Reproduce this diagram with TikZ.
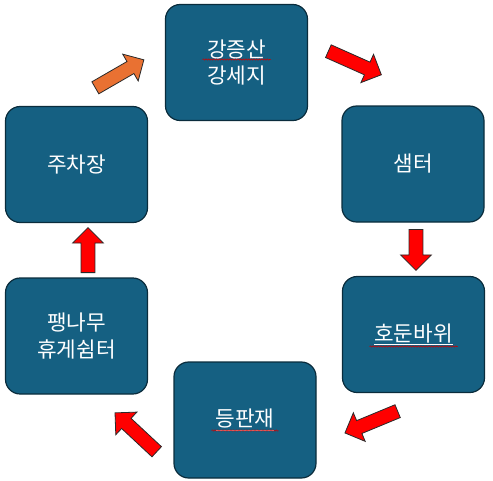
\documentclass[tikz,border=0pt]{standalone}
\usepackage{fontspec}
\newfontfamily\krfont{Noto Sans CJK KR}
\usetikzlibrary{shapes.arrows,decorations.pathmorphing}
\definecolor{boxblue}{HTML}{156082}
\definecolor{boxline}{HTML}{0A2C3C}
\definecolor{arrowred}{HTML}{FF0000}
\definecolor{arroworange}{HTML}{E97132}
\definecolor{arrowline}{HTML}{2A2A2A}
\begin{document}
\begin{tikzpicture}[x=0.75pt,y=-0.75pt,
  place/.style={draw=boxline, line width=0.9pt, fill=boxblue, rounded corners=11pt,
    minimum width=106.5pt, minimum height=87pt, inner sep=0pt,
    text=white, align=center, font=\krfont\fontsize{16}{20}\selectfont},
  blockarrow/.style={single arrow, draw=arrowline, line width=0.6pt,
    inner xsep=0pt, inner ysep=4.9pt,
    minimum width=22.5pt, single arrow head extend=6.4pt, anchor=tail},
  squiggle/.style={red!80!black, line width=0.4pt,
    decorate, decoration={snake, amplitude=0.5pt, segment length=2pt}}]
  \useasboundingbox (0,0) rectangle (493,480);
  % Stations of the loop
  \node[place] (gangjeungsan) at (236.5,62.5) {강증산\\강세지};
  \node[place] (saemteo) at (413,164) {샘터};
  \node[place] (hodunbawi) at (413.5,334.5) {\underline{호둔바위}};
  \node[place] (deungpanjae) at (245,420) {\underline{등판재}};
  \node[place] (paengnamu) at (76.5,336) {팽나무\\휴게쉼터};
  \node[place] (juchajang) at (76.5,164.5) {주차장};
  % Spelling marks
  \draw[squiggle] ([shift={(-34,-3)}]gangjeungsan.center) -- ++(68,0);
  \draw[squiggle] ([shift={(-44,12)}]hodunbawi.center) -- ++(88,0);
  \draw[squiggle] ([shift={(-33.5,10.5)}]deungpanjae.center) -- ++(67,0);
  % Block arrows round the loop
  \node[blockarrow, fill=arroworange, rotate=30, minimum height=42pt] (go1) at (95,88) {};
  \node[blockarrow, fill=arrowred, rotate=-24, minimum height=43.5pt] (go2) at (328,51) {};
  \node[blockarrow, fill=arrowred, rotate=-90, minimum height=30.75pt] (go3) at (416,229) {};
  \node[blockarrow, fill=arrowred, rotate=202.5, minimum height=42.75pt] (go4) at (398,411) {};
  \node[blockarrow, fill=arrowred, rotate=137, minimum height=42.75pt] (go5) at (157,452) {};
  \node[blockarrow, fill=arrowred, rotate=90, minimum height=33.75pt] (go6) at (88,273) {};
\end{tikzpicture}
\end{document}
